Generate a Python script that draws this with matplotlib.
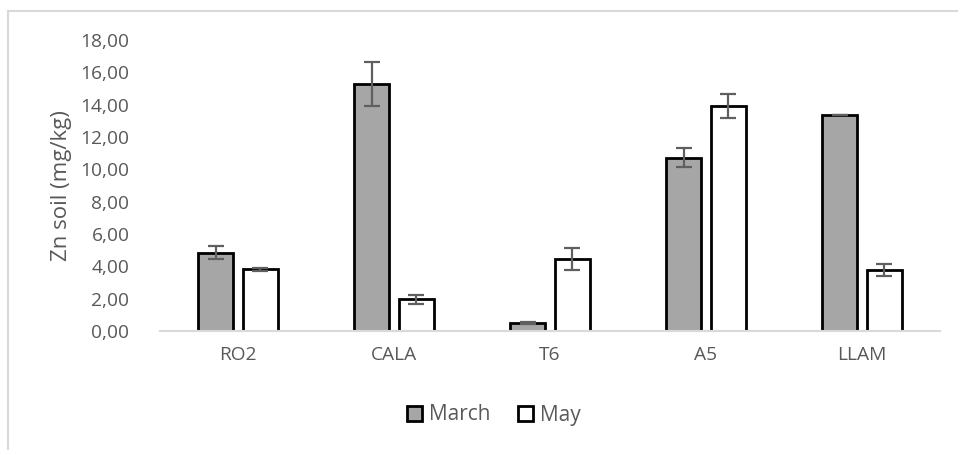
import matplotlib
matplotlib.use("Agg")
import matplotlib.pyplot as plt
import numpy as np
from matplotlib.lines import Line2D
from matplotlib.patches import Patch

plt.rcParams["font.family"] = ["Open Sans", "DejaVu Sans"]

sites = ["RO2", "CALA", "T6", "A5", "LLAM"]
march = [4.85, 15.27, 0.51, 10.72, 13.36]
march_err = [0.40, 1.38, 0.06, 0.60, 0.03]
may = [3.81, 1.96, 4.45, 13.91, 3.77]
may_err = [0.07, 0.27, 0.68, 0.76, 0.39]
yticks = np.arange(0, 20, 2)

text_grey = "#595959"
axis_grey = "#d9d9d9"

fig = plt.figure(figsize=(9.58, 4.5), dpi=100)
ax = fig.add_axes((160 / 958, 1 - 331 / 450, 780 / 958, 291 / 450))

x = np.arange(len(sites))
width = 0.225
off = 0.144
err_kw = dict(ecolor="#5f5f5f", elinewidth=1.6, capsize=5.5, capthick=1.6)
ax.bar(x - off, march, width, color="#a6a6a6", edgecolor="black", linewidth=2.0,
       yerr=march_err, error_kw=err_kw, label="March")
ax.bar(x + off, may, width, color="white", edgecolor="black", linewidth=2.0,
       yerr=may_err, error_kw=err_kw, label="May")

ax.set_xlim(-0.5, len(sites) - 0.5)
ax.set_ylim(0, 18)
ax.set_yticks(yticks)
ax.set_yticklabels([f"{v:.2f}".replace(".", ",") for v in yticks],
                   fontsize=13.8, color=text_grey)
ax.set_xticks(x)
ax.set_xticklabels(sites, fontsize=13.8, color=text_grey)
ax.tick_params(axis="both", length=0)
ax.tick_params(axis="y", pad=22)
ax.tick_params(axis="x", pad=11)
for side in ("top", "right", "left"):
    ax.spines[side].set_visible(False)
ax.spines["bottom"].set_color(axis_grey)
ax.spines["bottom"].set_linewidth(1.5)
ax.set_ylabel("Zn soil (mg/kg)", fontsize=16, color=text_grey, labelpad=6)

handles = [Patch(facecolor="#a6a6a6", edgecolor="black", linewidth=2.0),
           Patch(facecolor="white", edgecolor="black", linewidth=2.0)]
fig.legend(handles, ["March", "May"], loc="center", bbox_to_anchor=(494 / 958, 1 - 415 / 450),
           ncol=2, frameon=False, fontsize=15, labelcolor=text_grey,
           handlelength=0.7, handleheight=0.7, handletextpad=0.35, columnspacing=1.3)

# chart frame
fig.add_artist(Line2D([8 / 958, 8 / 958], [0, 1 - 11 / 450], transform=fig.transFigure,
                      color=axis_grey, linewidth=1.5))
fig.add_artist(Line2D([8 / 958, 1], [1 - 11 / 450, 1 - 11 / 450], transform=fig.transFigure,
                      color=axis_grey, linewidth=1.5))

fig.savefig("out.png", dpi=100)
